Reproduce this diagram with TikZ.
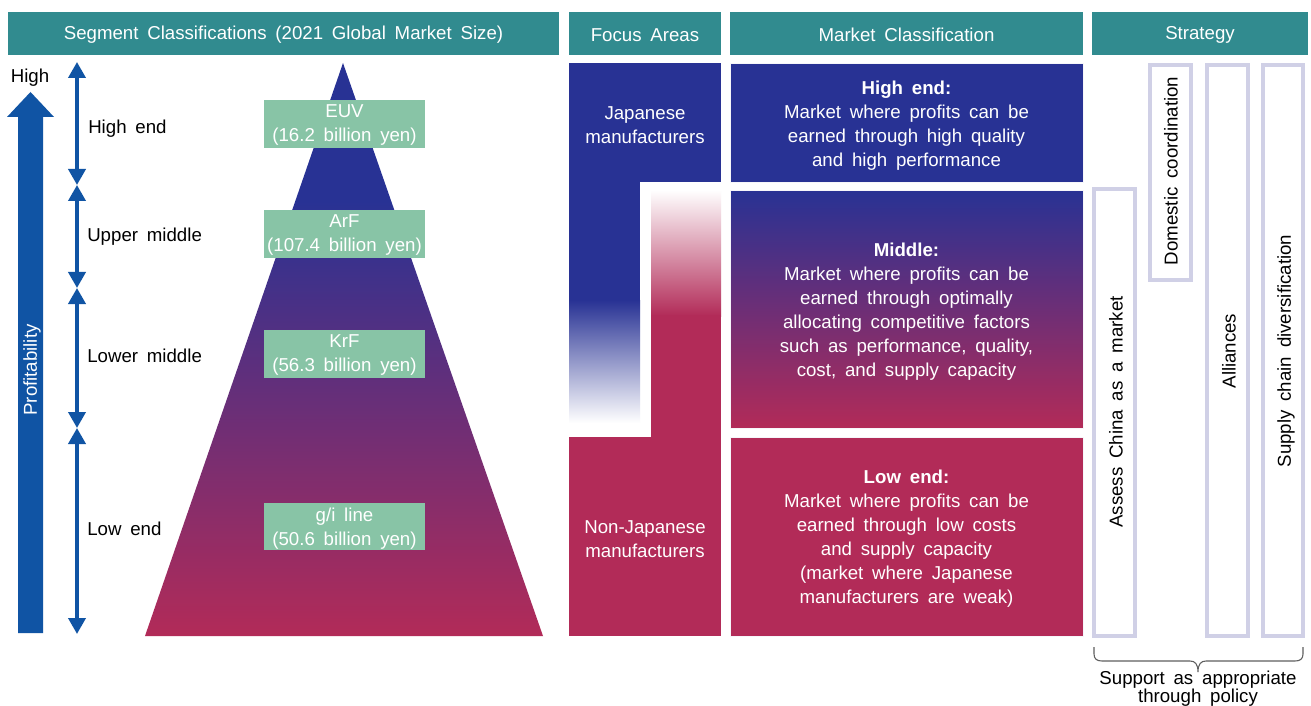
\documentclass[tikz,border=0pt]{standalone}
\usepackage{fontspec}
\setmainfont{Liberation Sans}[WordSpace=1.7]
\usetikzlibrary{arrows.meta}
\definecolor{teal1}{RGB}{49,139,143}
\definecolor{jblue}{RGB}{40,50,148}
\definecolor{jred}{RGB}{178,43,88}
\definecolor{pgreen}{RGB}{136,196,166}
\definecolor{ablue}{RGB}{16,84,164}
\definecolor{lav}{RGB}{208,208,230}
\definecolor{bracegray}{RGB}{95,95,95}
\pgfdeclareverticalshading{pyrshade}{100bp}{color(0bp)=(jred); color(25bp)=(jred); color(63bp)=(jblue); color(100bp)=(jblue)}
\pgfdeclareverticalshading{midshade}{100bp}{color(0bp)=(jred); color(25bp)=(jred); color(75bp)=(jblue); color(100bp)=(jblue)}
\begin{document}
\begin{tikzpicture}[x=0.75pt,y=-0.75pt,
  every node/.style={font=\fontsize{14}{18}\selectfont, inner sep=0pt},
  hdr/.style={fill=teal1},
  wtxt/.style={text=white, align=center},
  ltxt/.style={text=black, anchor=base west},
  dbl/.style={draw=ablue, line width=2.8pt, {Triangle[width=12.75pt,length=12pt]}-{Triangle[width=12.75pt,length=12pt]}},
  gbox/.style={fill=pgreen},
  mbox/.style={draw=white!80!lav, line width=0.6pt},
  sbox/.style={draw=lav, line width=3pt, fill=white},
  stxt/.style={rotate=90, text=black},
  bracec/.style={draw=bracegray, line width=0.8pt}
]
\useasboundingbox (0,0) rectangle (1311,706);
\fill[white] (0,0) rectangle (1311,706);

% headers
\fill[hdr] (8,12) rectangle (559,55);
\fill[hdr] (569,12) rectangle (721,55);
\fill[hdr] (730,12) rectangle (1083,55);
\fill[hdr] (1092,12) rectangle (1308,55);
\node[wtxt] (h1) at (283.5,35) {Segment Classifications (2021 Global Market Size)};
\node[wtxt] (h2) at (645,35) {Focus Areas};
\node[wtxt] (h3) at (906.5,35) {Market Classification};
\node[wtxt] (h4) at (1200,35) {Strategy};

% profitability arrow
\fill[ablue] (18,633) -- (18,117) -- (7,117) -- (30.5,92) -- (54,117) -- (43,117) -- (43,633) -- cycle;
\node[text=black] (high) at (30,78) {High};
\node[text=white, rotate=90] (prof) at (32,370) {Profitability};

% double arrows
\coordinate (a0) at (77,62);
\coordinate (a1) at (77,185);
\coordinate (a2) at (77,288);
\coordinate (a3) at (77,428);
\coordinate (a4) at (77,634);
\draw[dbl] (a0) -- (a1);
\draw[dbl] (a1) -- (a2);
\draw[dbl] (a2) -- (a3);
\draw[dbl] (a3) -- (a4);
\node[ltxt] (l1) at (88,134) {High end};
\node[ltxt] (l2) at (87,242) {Upper middle};
\node[ltxt] (l3) at (87,362) {Lower middle};
\node[ltxt] (l4) at (87,535) {Low end};

% pyramid
\shade[shading=pyrshade] (343,63) -- (543,636) -- (145,636) -- cycle;
\fill[gbox] (264,100) rectangle (425,148);
\fill[gbox] (264,210) rectangle (425,258);
\fill[gbox] (264,330) rectangle (425,378);
\fill[gbox] (264,503) rectangle (425,550);
\node[wtxt] (euv) at (344.5,125.5) {EUV\\(16.2 billion yen)};
\node[wtxt] (arf) at (344.5,235.5) {ArF\\(107.4 billion yen)};
\node[wtxt] (krf) at (344.5,355.5) {KrF\\(56.3 billion yen)};
\node[wtxt] (gil) at (344.5,528.5) {g/i line\\(50.6 billion yen)};

% focus areas
\fill[jblue] (569,63) rectangle (721,182);
\fill[jblue] (569,181) rectangle (640,301);
\shade[top color=jblue, bottom color=white] (569,300) rectangle (640,423);
\shade[top color=white, bottom color=jred] (651,190) rectangle (721,316);
\fill[jred] (651,315) rectangle (721,438);
\fill[jred] (569,437) rectangle (721,636);
\node[wtxt] (jm) at (645,125) {Japanese\\manufacturers};
\node[wtxt] (njm) at (645,539) {Non-Japanese\\manufacturers};

% market classification
\fill[jblue, mbox] (730,63) rectangle (1083,182);
\shade[shading=midshade] (730,190) rectangle (1083,428);
\fill[white] (726,182.6) rectangle (1087,189.7);
\draw[mbox] (730,190) rectangle (1083,428);
\fill[jred, mbox] (730,437) rectangle (1083,636);
\node[wtxt] (mhigh) at (906.5,125.5) {\textbf{High end:}\\Market where profits can be\\earned through high quality\\and high performance};
\node[wtxt] (mmid) at (906.5,312) {\textbf{Middle:}\\Market where profits can be\\earned through optimally\\allocating competitive factors\\such as performance, quality,\\cost, and supply capacity};
\node[wtxt] (mlow) at (906.5,539) {\textbf{Low end:}\\Market where profits can be\\earned through low costs\\and supply capacity\\(market where Japanese\\manufacturers are weak)};

% strategy
\draw[sbox] (1094,189) rectangle (1135,636);
\draw[sbox] (1150,65) rectangle (1191,280);
\draw[sbox] (1207,65) rectangle (1248,636);
\draw[sbox] (1263,65) rectangle (1303,636);
\node[stxt] (s1) at (1116,412) {Assess China as a market};
\node[stxt] (s2) at (1171,171) {Domestic coordination};
\node[stxt] (s3) at (1229,351) {Alliances};
\node[stxt] (s4) at (1286,351) {Supply chain diversification};

% brace
\draw[bracec] (1094,647) -- (1094,654) .. controls (1094,659) and (1097,661) .. (1102,661) -- (1190,661) .. controls (1195,661) and (1198,664) .. (1198,672) .. controls (1198,664) and (1201,661) .. (1206,661) -- (1295,661) .. controls (1300,661) and (1303,659) .. (1303,654) -- (1303,647);
\node[text=black, align=center, font=\fontsize{14}{13.5}\selectfont] (sup) at (1198,689) {Support as appropriate\\through policy};
\end{tikzpicture}
\end{document}
